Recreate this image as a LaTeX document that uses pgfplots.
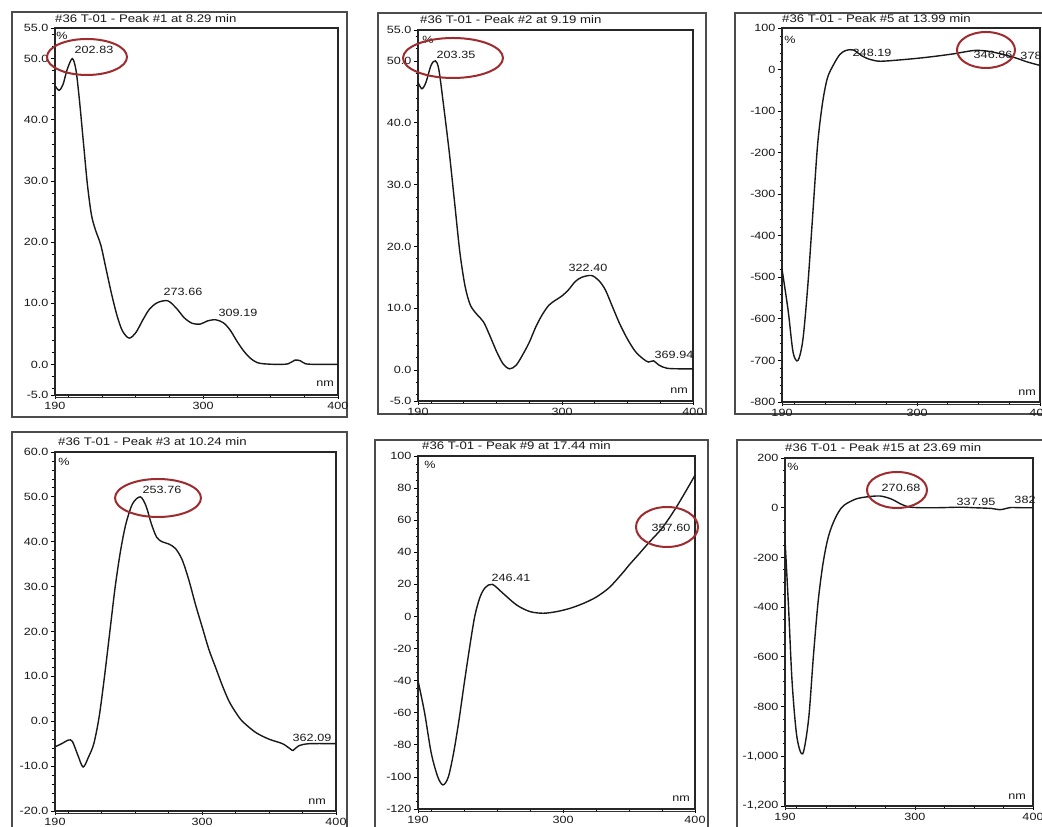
\documentclass[border=0pt]{standalone}
\usepackage{pgfplots}
\pgfplotsset{compat=1.18}
\usepackage{fontspec}
\setmainfont{Liberation Sans}[FakeStretch=1.2]
\definecolor{ringred}{HTML}{9E2B2E}
\pgfplotsset{
  spec/.style={
    scale only axis, clip=false,
    xmin=190, xmax=400,
    xtick={190,300,400}, minor xtick={200,225,...,375},
    tick align=outside, xtick pos=bottom, ytick pos=left,
    major tick length=4pt, minor tick length=2.5pt,
    every tick/.style={black, line width=0.8pt},
    axis line style={line width=1.3pt, black!85},
    tick label style={font=\fontsize{10.5}{11}\selectfont, black!90},
    /pgf/number format/assume math mode=true,
    xticklabel style={/pgf/number format/1000 sep={}},
    yticklabel style={xshift=1pt},
  },
  onedec/.style={yticklabel style={/pgf/number format/.cd, fixed, fixed zerofill, precision=1}},
  curve/.style={black!90, line width=1.4pt, smooth, tension=0.5},
}
\newcommand{\dbl}{\draw[line width=1pt, black!80] ([yshift=-3pt]rel axis cs:0,0) -- ([yshift=-3pt]rel axis cs:1,0);}
\begin{document}
\begin{tikzpicture}[x=1pt,y=1pt]
\useasboundingbox (0,0) rectangle (1042,827);
\fill[white] (0,0) rectangle (1042,827);
% outer frames
\begin{scope}[line width=1.6pt, black!70]
\draw (12,815) rectangle (347,410);
\draw (378,814) rectangle (706,413);
\draw (735,814) rectangle (1050,413);
\draw (12,395) rectangle (347,-3);
\draw (375,387) rectangle (708,-3);
\draw (737,387) rectangle (1050,-3);
\end{scope}

% Panel 1
\begin{axis}[spec, onedec, at={(55pt,432pt)}, anchor=south west, width=283pt, height=367pt,
  ymin=-5, ymax=55, ytick={-5,0,10,20,30,40,50,55}, minor ytick={-4,-2,...,54}]
\addplot[curve] coordinates {(190,45.6) (193,44.8) (196,45.8) (199,48.2) (202.83,50.0) (205.5,48.2) (208,43.5) (211,36.5) (214,29.5) (217,24.5) (220,22.0) (224,19.5) (228,15.5) (232,11.5) (236,8.0) (240,5.5) (245,4.3) (250,5.2) (255,7.2) (260,9.0) (266,10.1) (273.66,10.4) (280,9.2) (286,7.6) (292,6.7) (298,6.6) (303,7.1) (309.19,7.3) (315,6.8) (320,5.6) (325,3.8) (330,2.2) (335,1.0) (340,0.3) (345,0.1) (355,0.0) (363,0.1) (368,0.7) (372,0.6) (376,0.1) (385,0.0) (400,0.0)};
\dbl
\end{axis}

% Panel 2
\begin{axis}[spec, onedec, at={(418pt,426pt)}, anchor=south west, width=275pt, height=371pt,
  ymin=-5, ymax=55, ytick={-5,0,10,20,30,40,50,55}, minor ytick={-4,-2,...,54}]
\addplot[curve] coordinates {(190,46.5) (193,45.5) (196,46.5) (200,49.3) (203.35,50.0) (206,48.5) (210,42) (214,35) (218,27) (222,19) (226,13.5) (230,10.5) (235,9) (240,7.8) (245,5.5) (250,3) (255,1) (260,0.2) (265,0.8) (270,2.5) (275,4.5) (280,7) (285,9) (290,10.5) (295,11.3) (300,12) (305,13) (310,14.3) (315,15) (322.4,15.3) (328,14.5) (333,13) (338,10.5) (344,7.5) (350,5) (356,3) (362,1.8) (366,1.3) (369.94,1.5) (374,0.8) (380,0.3) (390,0.2) (400,0.2)};
\dbl
\end{axis}

% Panel 3
\begin{axis}[spec, at={(782pt,425pt)}, anchor=south west, width=258pt, height=374pt,
  ymin=-800, ymax=100, ytick={-800,-700,...,100}, minor ytick={-800,-780,...,100}]
\addplot[curve] coordinates {(190,-480) (195,-580) (199,-680) (203,-700) (207,-650) (211,-520) (215,-350) (219,-180) (223,-80) (227,-20) (232,12) (237,36) (242,46) (248.19,47) (255,33) (262,24) (270,20) (285,23) (300,27) (315,32) (330,38) (346.86,46) (360,43) (378,30) (390,18) (400,10)};
\dbl
\end{axis}

% Panel 4
\begin{axis}[spec, onedec, at={(55pt,16pt)}, anchor=south west, width=281pt, height=359pt,
  ymin=-20, ymax=60, ytick={-20,-10,...,60}, minor ytick={-20,-18,...,60}]
\addplot[curve] coordinates {(190,-5.7) (195,-5.0) (200,-4.2) (203,-4.5) (207,-7.5) (211,-10.2) (215,-8) (219,-5) (223,1) (227,10) (231,20) (235,30) (239,38) (243,44) (248,48.5) (253.76,50) (258,48) (262,44) (266,41) (270,40) (275,39.5) (280,38.5) (285,36) (290,31.5) (295,26) (300,21) (305,16) (310,12) (315,8) (320,4.5) (325,2) (330,0) (340,-2.5) (350,-4) (360,-5) (366,-6.2) (368,-6.5) (372,-5.5) (380,-5) (400,-5)};
\dbl
\end{axis}

% Panel 5
\begin{axis}[spec, at={(418pt,18pt)}, anchor=south west, width=277pt, height=353pt,
  ymin=-120, ymax=100, ytick={-120,-100,...,100}, minor ytick={-120,-115,...,100}]
\addplot[curve] coordinates {(190,-40) (195,-60) (200,-85) (205,-100) (209,-105) (213,-100) (217,-85) (221,-65) (225,-42) (229,-20) (233,0) (237,12) (241,18) (246.41,20) (255,14) (265,7) (275,3) (285,2) (295,3) (305,5) (315,8) (325,12) (335,18) (345,27) (350,32) (357.6,39) (365,46) (375,55) (385,67) (393,78) (400,88)};
\dbl
\end{axis}

% Panel 6
\begin{axis}[spec, at={(785pt,21pt)}, anchor=south west, width=248pt, height=348pt,
  ymin=-1200, ymax=200, ytick={-1200,-1000,...,200}, minor ytick={-1200,-1150,...,200}]
\addplot[curve] coordinates {(190,-130) (193,-400) (196,-700) (200,-920) (205,-990) (210,-850) (214,-600) (218,-380) (222,-230) (226,-130) (230,-70) (235,-20) (240,10) (250,35) (260,44) (270.68,47) (280,35) (288,15) (295,3) (305,0) (320,0) (337.95,2) (350,0) (365,-3) (372,-8) (380,0) (382,1) (390,0) (400,0)};
\dbl
\end{axis}

% titles
\begin{scope}[every node/.style={font=\fontsize{11}{12}\selectfont, black!90, anchor=base west, inner sep=0pt}]
\node at (55,804) {\#36 T-01 - Peak \#1 at 8.29 min};
\node at (420,803) {\#36 T-01 - Peak \#2 at 9.19 min};
\node at (782,804) {\#36 T-01 - Peak \#5 at 13.99 min};
\node at (58,381) {\#36 T-01 - Peak \#3 at 10.24 min};
\node at (422,377) {\#36 T-01 - Peak \#9 at 17.44 min};
\node at (785,375) {\#36 T-01 - Peak \#15 at 23.69 min};
\end{scope}

% annotations
\begin{scope}[every node/.style={font=\fontsize{10.5}{11}\selectfont, black!90, inner sep=0pt}]
\node at (94,777) {202.83};
\node at (183,535) {273.66};
\node at (238,514) {309.19};
\node at (62,791) {\%};
\node at (325,443) {nm};
\node at (456,772) {203.35};
\node at (588,559) {322.40};
\node at (674,472) {369.94};
\node at (428,787) {\%};
\node at (679,436) {nm};
\node at (872,774) {248.19};
\node at (993,772) {346.86};
\node at (1031,771) {378};
\node at (790,787) {\%};
\node at (1027,434) {nm};
\node at (162,337) {253.76};
\node at (312,89) {362.09};
\node at (64,365) {\%};
\node at (317,25) {nm};
\node at (511,249) {246.41};
\node at (671,299) {357.60};
\node at (430,362) {\%};
\node at (681,28) {nm};
\node at (901,339) {270.68};
\node at (976,325) {337.95};
\node at (1025,327) {382};
\node at (793,360) {\%};
\node at (1017,30) {nm};
\end{scope}

% red rings
\begin{scope}[ringred, line width=2pt]
\draw (87,770) ellipse [x radius=40, y radius=18];
\draw (453,769) ellipse [x radius=50, y radius=20];
\draw (986,777) ellipse [x radius=29, y radius=18];
\draw (158,329) ellipse [x radius=43, y radius=19];
\draw (667,300) ellipse [x radius=31, y radius=20];
\draw (897,337) ellipse [x radius=30, y radius=18];
\end{scope}
\end{tikzpicture}
\end{document}
